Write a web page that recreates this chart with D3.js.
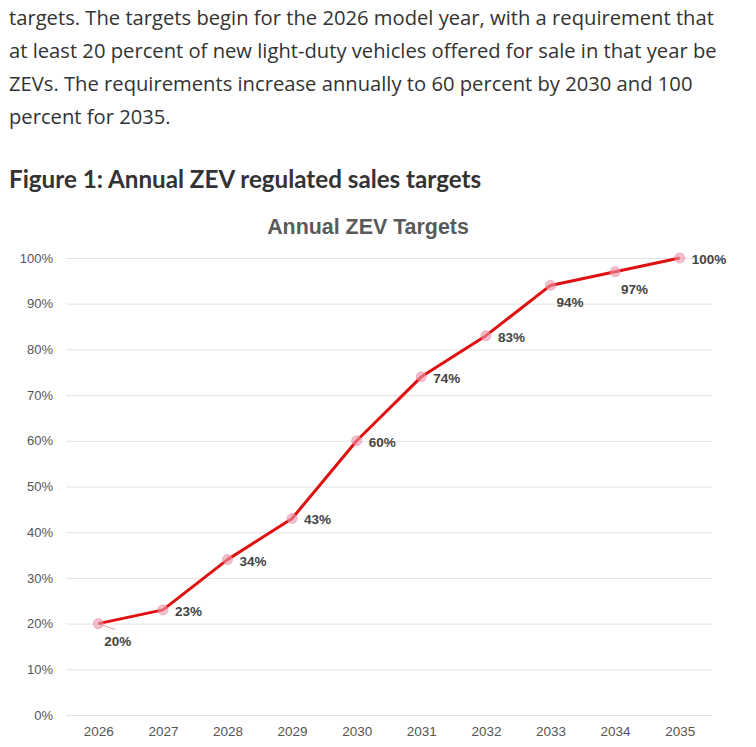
<!DOCTYPE html>
<html>
<head>
<meta charset="utf-8">
<script src="https://cdn.jsdelivr.net/npm/d3@7"></script>
<style>
  body { margin: 0; background: #fff; }
</style>
</head>
<body>
<div id="chart"></div>
<script>
// Page text
const paragraphLines = [
    "targets. The targets begin for the 2026 model year, with a requirement that",
    "at least 20 percent of new light-duty vehicles offered for sale in that year be",
    "ZEVs. The requirements increase annually to 60 percent by 2030 and 100",
    "percent for 2035."
];
const figureHeading = "Figure 1: Annual ZEV regulated sales targets";
const chartTitle = "Annual ZEV Targets";

// Chart data
const years = ["2026", "2027", "2028", "2029", "2030", "2031", "2032", "2033", "2034", "2035"];
const targets = [20, 23, 34, 43, 60, 74, 83, 94, 97, 100];
const labelSide = ["below", "right", "right", "right", "right", "right", "right", "below", "below", "right"];
const yTicks = [0, 10, 20, 30, 40, 50, 60, 70, 80, 90, 100];

const width = 756;
const height = 747;
const plot = { left: 66, right: 712, top: 258, bottom: 715 };

const svg = d3.select("#chart")
    .append("svg")
    .attr("width", width)
    .attr("height", height);

// Intro paragraph
svg.append("g")
    .selectAll("text")
    .data(paragraphLines)
    .enter()
    .append("text")
    .attr("x", 9)
    .attr("y", (d, i) => 25 + i * 33)
    .style("font-family", "'Open Sans', sans-serif")
    .style("font-size", "20.2px")
    .attr("fill", "#333")
    .text(d => d);

svg.append("text")
    .attr("x", 9)
    .attr("y", 188)
    .style("font-family", "Lato, sans-serif")
    .style("font-weight", "bold")
    .style("font-size", "24.2px")
    .attr("fill", "#333")
    .text(figureHeading);

// Scales
const x = d3.scalePoint()
    .domain(years)
    .range([plot.left, plot.right])
    .padding(0.5);

const y = d3.scaleLinear()
    .domain([0, 100])
    .range([plot.bottom, plot.top]);

// Title
svg.append("text")
    .attr("x", 368)
    .attr("y", 234)
    .style("text-anchor", "middle")
    .style("font-family", "Arial, 'Liberation Sans', sans-serif")
    .style("font-weight", "bold")
    .style("font-size", "21.4px")
    .attr("fill", "#5a5a5a")
    .text(chartTitle);

// Gridlines + y labels
const yAxis = svg.append("g")
    .attr("transform", `translate(${plot.left},0)`)
    .call(d3.axisLeft(y)
        .tickValues(yTicks)
        .tickSize(-(plot.right - plot.left))
        .tickPadding(13)
        .tickFormat(d => d + "%"));
yAxis.select(".domain").remove();
yAxis.selectAll("line").attr("stroke", "#e2e2e2");
yAxis.selectAll("text")
    .style("font-family", "Arial, 'Liberation Sans', sans-serif")
    .style("font-size", "13px")
    .attr("fill", "#555");

// x labels
const xAxis = svg.append("g")
    .attr("transform", `translate(0,${plot.bottom})`)
    .call(d3.axisBottom(x).tickSize(0).tickPadding(11));
xAxis.select(".domain").remove();
xAxis.selectAll("text")
    .style("font-family", "Arial, 'Liberation Sans', sans-serif")
    .style("font-size", "13.5px")
    .attr("fill", "#555");

const points = years.map((yr, i) => ({ year: yr, value: targets[i], side: labelSide[i] }));

// Line
const line = d3.line()
    .x(d => x(d.year))
    .y(d => y(d.value));

svg.append("path")
    .datum(points)
    .attr("d", line)
    .attr("fill", "none")
    .attr("stroke", "#e01010")
    .attr("stroke-width", 3)
    .attr("stroke-linejoin", "round");

// Markers
svg.selectAll("circle.pt")
    .data(points)
    .enter()
    .append("circle")
    .attr("class", "pt")
    .attr("cx", d => x(d.year))
    .attr("cy", d => y(d.value))
    .attr("r", 5)
    .attr("fill", "rgba(235,150,170,0.6)")
    .attr("stroke", "rgba(225,130,150,0.5)")
    .attr("stroke-width", 1);

// Leader line for first label
svg.append("line")
    .attr("x1", x(years[0]))
    .attr("y1", y(targets[0]))
    .attr("x2", x(years[0]) + 17)
    .attr("y2", y(targets[0]) + 6)
    .attr("stroke", "#c88")
    .attr("stroke-width", 0.8);

// Value labels
svg.selectAll("text.val")
    .data(points)
    .enter()
    .append("text")
    .attr("class", "val")
    .attr("x", d => x(d.year) + (d.side === "right" ? 12 : 6))
    .attr("y", d => y(d.value) + (d.side === "right" ? 6 : 22))
    .style("font-family", "Arial, 'Liberation Sans', sans-serif")
    .style("font-weight", "bold")
    .style("font-size", "13.5px")
    .attr("fill", "#444")
    .text(d => d.value + "%");
</script>
</body>
</html>
